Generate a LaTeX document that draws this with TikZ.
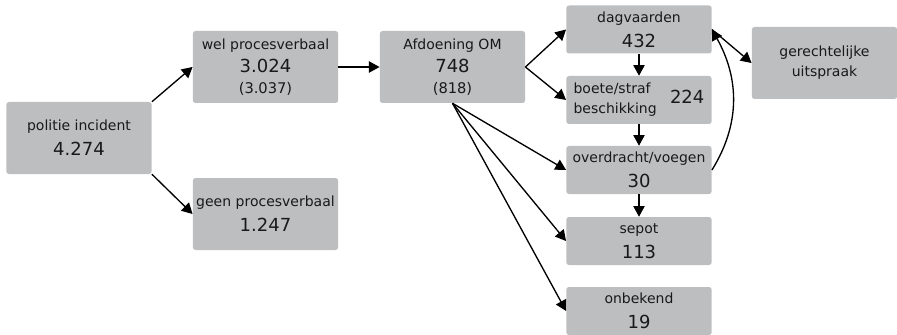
\documentclass[tikz,border=0pt]{standalone}
\usepackage{fontspec}
\setmainfont{DejaVu Sans}
\usetikzlibrary{arrows.meta}

\definecolor{boxgray}{HTML}{BDBEC0}
\newcommand{\lbl}{\fontsize{10.5}{13}\selectfont}
\newcommand{\num}{\fontsize{13.5}{16}\selectfont}
\newcommand{\sml}{\fontsize{11}{13}\selectfont}

\begin{document}
\begin{tikzpicture}[x=0.75pt,y=-0.75pt, >={Triangle[length=8pt,width=8.5pt]}]
\tikzset{
  box/.style={fill=boxgray, rounded corners=2pt, align=center, inner sep=0pt,
    minimum width=109pt, font=\lbl, text=black!90},
  tall/.style={box, minimum height=54pt},
  flat/.style={box, minimum height=36pt},
  flow/.style={->, line width=1pt}
}
\useasboundingbox (0,0) rectangle (897,335);
% linker kolom
\node[tall] (pol) at (79,138) {politie incident\\[6pt]{\num 4.274}};
\node[tall] (wel) at (265.5,67) {wel procesverbaal\\[4pt]{\num 3.024}\\[2.5pt]{\sml (3.037)}};
\node[tall] (geen) at (265.5,214) {geen procesverbaal\\[6pt]{\num 1.247}};
\node[tall] (afd) at (452.5,67) {Afdoening OM\\[4pt]{\num 748}\\[2.5pt]{\sml (818)}};
% afdoeningen
\node[flat] (dag) at (639,29.5) {dagvaarden\\[6pt]{\num 432}};
\node[flat] (boete) at (639,100) {\begin{tabular}{@{}l@{}}boete/straf\\[2pt]beschikking\end{tabular}\hspace{10pt}{\num 224}};
\node[flat] (over) at (639,170) {overdracht/voegen\\[6pt]{\num 30}};
\node[flat] (sepot) at (639,241) {sepot\\[6pt]{\num 113}};
\node[flat] (onb) at (639,311) {onbekend\\[6pt]{\num 19}};
\node[tall] (ger) at (824.5,63) {gerechtelijke\\[2pt]uitspraak};

\draw[flow] (pol.north east) -- (wel.west);
\draw[flow] (pol.south east) -- (geen.west);
\draw[flow] (wel.east) -- (afd.west);
\draw[flow] (afd.east) -- (dag.west);
\draw[flow] (afd.east) -- (boete.west);
\draw[flow] (afd.south) -- (over.west);
\draw[flow] (afd.south) -- (sepot.west);
\draw[flow] (afd.south) -- (onb.west);
\draw[flow] (dag.south) -- (boete.north);
\draw[flow] (boete.south) -- (over.north);
\draw[flow] (over.south) -- (sepot.north);
\draw[flow] (dag.east) -- (ger.west);
\draw[flow] (over.east) .. controls +(28,-45) and +(28,50) .. (dag.east);
\end{tikzpicture}
\end{document}
